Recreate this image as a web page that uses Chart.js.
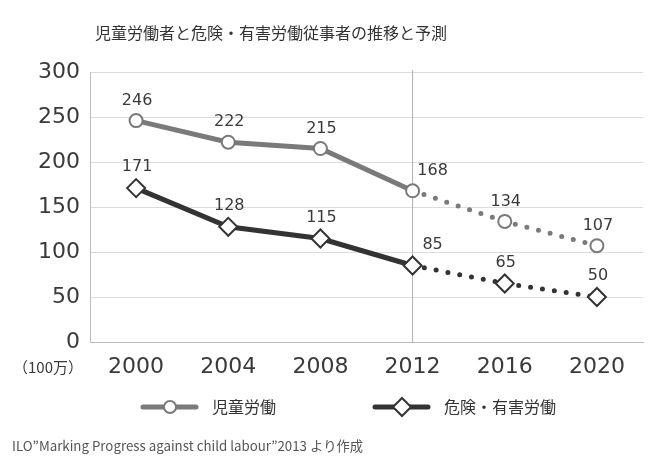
<!DOCTYPE html>
<html>
<head>
<meta charset="utf-8">
<script src="https://cdn.jsdelivr.net/npm/chart.js@4"></script>
<style>
  html, body { margin: 0; padding: 0; background: #fff; }
  #wrap { width: 662px; height: 468px; position: relative; }
</style>
</head>
<body>
<div id="wrap"><canvas id="chart" width="662" height="468"></canvas></div>
<script>
// data
const years = ['2000', '2004', '2008', '2012', '2016', '2020'];
const childLabour = [246, 222, 215, 168, 134, 107];
const hazardous = [171, 128, 115, 85, 65, 50];
const forecastFrom = 3; // 2012 onwards is a projection (dotted)

const titleText = '児童労働者と危険・有害労働従事者の推移と予測';
const unitText = '（100万）';
const sourceText = 'ILO”Marking Progress against child labour”2013 より作成';
const seriesNames = ['児童労働', '危険・有害労働'];

const FONT = "'DejaVu Sans', 'Noto Sans CJK JP', sans-serif";
const JFONT = "'Noto Sans CJK JP', 'Liberation Sans', sans-serif";
const GRAY = '#7a7a7a';
const DARK = '#333333';
const TEXT = '#3a3a3a';

const dotted = (ctx) => ctx.p0DataIndex >= forecastFrom ? [0, 12] : undefined;

const extras = {
    id: 'extras',
    beforeDatasetsDraw(chart) {
        const {ctx, chartArea, scales} = chart;
        const x = scales.x.getPixelForValue(forecastFrom);
        ctx.save();
        ctx.strokeStyle = '#b0b0b0';
        ctx.lineWidth = 1;
        ctx.beginPath();
        ctx.moveTo(x, chartArea.top - 2);
        ctx.lineTo(x, chartArea.bottom);
        ctx.stroke();
        ctx.restore();
    },
    afterDraw(chart) {
        const {ctx} = chart;
        ctx.save();
        // title
        ctx.fillStyle = '#333';
        ctx.font = '16px ' + JFONT;
        ctx.textAlign = 'center';
        ctx.textBaseline = 'middle';
        ctx.fillText(titleText, 271, 33);

        // value labels
        ctx.font = '16px ' + FONT;
        ctx.fillStyle = TEXT;
        chart.data.datasets.forEach((ds, di) => {
            const meta = chart.getDatasetMeta(di);
            meta.data.forEach((pt, i) => {
                const dx = i === forecastFrom ? 20 : 1;
                const dy = di === 0 ? 20 : 21;
                ctx.fillText(String(ds.data[i]), pt.x + dx, pt.y - dy);
            });
        });

        // unit
        ctx.font = '15px ' + JFONT;
        ctx.fillText(unitText, 48, 367);

        // legend
        const drawItem = (x0, color, style, label) => {
            const y = 407;
            ctx.strokeStyle = color;
            ctx.lineWidth = 5;
            ctx.lineCap = 'round';
            ctx.beginPath();
            ctx.moveTo(x0, y);
            ctx.lineTo(x0 + 53, y);
            ctx.stroke();
            ctx.fillStyle = '#fff';
            ctx.lineWidth = 2;
            ctx.beginPath();
            const cx = x0 + 27;
            if (style === 'circle') {
                ctx.arc(cx, y, 6, 0, Math.PI * 2);
            } else {
                ctx.moveTo(cx, y - 9);
                ctx.lineTo(cx + 9, y);
                ctx.lineTo(cx, y + 9);
                ctx.lineTo(cx - 9, y);
                ctx.closePath();
            }
            ctx.fill();
            ctx.stroke();
            ctx.fillStyle = '#333';
            ctx.font = '16px ' + JFONT;
            ctx.textAlign = 'left';
            ctx.fillText(label, x0 + 69, y);
        };
        drawItem(143, GRAY, 'circle', seriesNames[0]);
        drawItem(375, DARK, 'diamond', seriesNames[1]);

        // source
        ctx.fillStyle = '#555';
        ctx.font = '13.3px ' + JFONT;
        ctx.textAlign = 'left';
        ctx.fillText(sourceText, 12, 446);
        ctx.restore();
    }
};

new Chart('chart', {
    type: 'line',
    data: {
        labels: years,
        datasets: [{
            label: seriesNames[0],
            data: childLabour,
            borderColor: GRAY,
            borderWidth: 5,
            borderCapStyle: 'round',
            pointStyle: 'circle',
            pointRadius: 6.5,
            pointBorderWidth: 2,
            pointBackgroundColor: '#fff',
            pointBorderColor: GRAY,
            tension: 0,
            segment: {borderDash: dotted}
        }, {
            label: seriesNames[1],
            data: hazardous,
            borderColor: DARK,
            borderWidth: 5,
            borderCapStyle: 'round',
            pointStyle: 'rectRot',
            pointRadius: 9,
            pointBorderWidth: 2,
            pointBackgroundColor: '#fff',
            pointBorderColor: DARK,
            tension: 0,
            segment: {borderDash: dotted}
        }]
    },
    options: {
        responsive: false,
        animation: false,
        layout: {padding: {left: 0, right: 19, top: 72, bottom: 88}},
        plugins: {
            legend: {display: false},
            tooltip: {enabled: false}
        },
        scales: {
            x: {
                offset: true,
                grid: {display: false},
                border: {display: true, color: '#bbb'},
                ticks: {color: TEXT, font: {family: FONT, size: 22}, padding: 4},
                afterFit: (s) => { s.height = 38; }
            },
            y: {
                min: 0,
                max: 300,
                ticks: {stepSize: 50, color: TEXT, font: {family: FONT, size: 22}, padding: 10},
                grid: {color: '#dcdcdc', drawTicks: false},
                border: {display: true, color: '#bbb'},
                afterFit: (s) => { s.width = 90; }
            }
        }
    },
    plugins: [extras]
});
</script>
</body>
</html>
